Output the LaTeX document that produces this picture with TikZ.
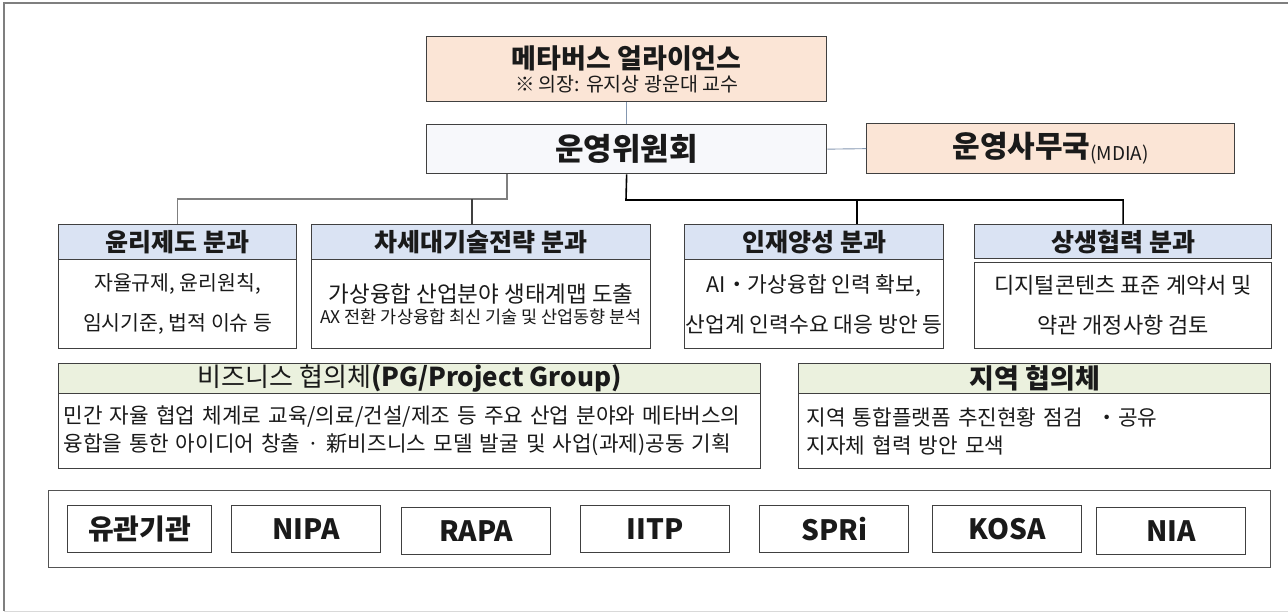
\documentclass[tikz,border=0pt]{standalone}
\usepackage{fontspec}
\setmainfont{Noto Sans CJK KR}
\definecolor{peach}{HTML}{FBE5D6}
\definecolor{cmtfill}{HTML}{F7F8FB}
\definecolor{hblue}{HTML}{DAE3F3}
\definecolor{hgreen}{HTML}{EBF1DE}
\definecolor{boxline}{HTML}{404040}
\definecolor{thinline}{HTML}{8497B0}
\definecolor{grayline}{HTML}{7F7F7F}
\definecolor{txt}{HTML}{1A1A1A}
\newcommand{\fs}[2]{\fontsize{#1}{#2}\selectfont}
\begin{document}
\begin{tikzpicture}[x=1pt,y=-1pt,
  bx/.style={draw=boxline, line width=1.3pt, inner sep=0pt, anchor=north west, text=txt},
  peachbox/.style={bx, fill=peach},
  bluehead/.style={bx, fill=hblue, font=\fs{25}{28}\bfseries},
  greenhead/.style={bx, fill=hgreen},
  bodybox/.style={bx, fill=white, align=center},
  agency/.style={bx, fill=white, font=\fs{28}{30}\bfseries},
  thin/.style={draw=thinline, line width=0.9pt},
  conn/.style={line width=1.6pt}
]
\useasboundingbox (0,0) rectangle (1288,613);
% outer frame
\draw[grayline, line width=2pt] (1288,3) -- (4,3) -- (4,611);
\draw[black!15, line width=1pt] (4,611) -- (1288,611);

% top level
\node[peachbox, minimum width=400pt, minimum height=65pt, align=center] (alliance) at (426,36)
  {{\fs{27}{27}\bfseries 메타버스 얼라이언스}\\[3pt]{\fs{19.5}{21}\selectfont ※ 의장: 유지상 광운대 교수}};
\node[bx, fill=cmtfill, minimum width=400pt, minimum height=49pt, font=\fs{31}{32}\bfseries] (committee) at (426,124) {운영위원회};
\node[peachbox, minimum width=368pt, minimum height=50pt, font=\fs{30}{32}\bfseries] (office) at (866,123)
  {운영사무국\raisebox{-3pt}{\fs{19}{20}\mdseries (MDIA)}};

% subcommittees
\node[bluehead, minimum width=238pt, minimum height=35pt] (ethicsH) at (58,224) {윤리제도 분과};
\node[bodybox, minimum width=238pt, minimum height=89pt, font=\fs{20.5}{40}\selectfont] (ethicsB) at (58,259)
  {자율규제, 윤리원칙,\\임시기준, 법적 이슈 등};
\node[bluehead, minimum width=339pt, minimum height=35pt] (nextH) at (311,224) {차세대기술전략 분과};
\node[bodybox, minimum width=339pt, minimum height=89pt] (nextB) at (311,259)
  {{\fs{22.5}{24}\selectfont 가상융합 산업분야 생태계맵 도출}\\[3pt]{\fs{17.5}{19}\selectfont AX 전환 가상융합 최신 기술 및 산업동향 분석}};
\node[bluehead, minimum width=259pt, minimum height=35pt] (talentH) at (684,224) {인재양성 분과};
\node[bodybox, minimum width=259pt, minimum height=89pt, font=\fs{21.5}{40}\selectfont] (talentB) at (684,259)
  {AI・가상융합 인력 확보,\\산업계 인력수요 대응 방안 등};
\node[bluehead, minimum width=297pt, minimum height=34pt] (coopH) at (974,224) {상생협력 분과};
\node[bodybox, minimum width=297pt, minimum height=86pt, font=\fs{22}{40}\selectfont] (coopB) at (974,262)
  {디지털콘텐츠 표준 계약서 및\\약관 개정사항 검토};

% councils
\node[greenhead, minimum width=702pt, minimum height=30pt, font=\fs{26}{28}\selectfont] (bizH) at (58,363)
  {비즈니스 협의체\textbf{(PG/Project Group)}};
\node[bx, fill=white, minimum width=702pt, minimum height=75pt, text width=692pt, align=left, font=\fs{21.3}{28}\selectfont] (bizB) at (58,393)
  {민간 자율 협업 체계로 교육/의료/건설/제조 등 주요 산업 분야와 메타버스의\\융합을 통한 아이디어 창출 · 新비즈니스 모델 발굴 및 사업(과제)공동 기획};
\node[greenhead, minimum width=472pt, minimum height=30pt, font=\fs{27}{28}\bfseries] (regionH) at (798,363) {지역 협의체};
\node[bx, fill=white, minimum width=472pt, minimum height=75pt, text width=456pt, align=left, font=\fs{21.3}{28}\selectfont] (regionB) at (798,393)
  {지역 통합플랫폼 추진현황 점검 \ ・공유\\지자체 협력 방안 모색};

% related agencies
\node[bx, draw=boxline!90, minimum width=1222pt, minimum height=77pt] (agencies) at (48,490) {};
\node[agency, minimum width=144pt, minimum height=47pt] (ag0) at (67,505) {유관기관};
\node[agency, minimum width=149pt, minimum height=47pt] (ag1) at (231,505) {NIPA};
\node[agency, minimum width=149pt, minimum height=47pt] (ag2) at (401,507) {RAPA};
\node[agency, minimum width=149pt, minimum height=47pt] (ag3) at (580,505) {IITP};
\node[agency, minimum width=149pt, minimum height=47pt] (ag4) at (759,505) {SPRi};
\node[agency, minimum width=149pt, minimum height=47pt] (ag5) at (932,505) {KOSA};
\node[agency, minimum width=149pt, minimum height=47pt] (ag6) at (1096,507) {NIA};

% connectors
\draw[thin] (alliance.south) -- (committee.north);
\draw[thin] (committee.east) -- (office.west);
\coordinate (jl) at (507,199);
\coordinate (jn) at (472,199);
\coordinate (jr) at (626,200);
\coordinate (jt) at (857,200);
\draw[conn, grayline] (committee.south -| jl) -- (jl) -- (jl -| ethicsH.north) -- (ethicsH.north);
\draw[conn, boxline] (jn) -- (ethicsH.north -| jn);
\draw[conn, black] (committee.south) -- (jr) -- (jr -| coopH.north) -- (coopH.north);
\draw[conn, black] (jt) -- (talentH.north -| jt);
\end{tikzpicture}
\end{document}
